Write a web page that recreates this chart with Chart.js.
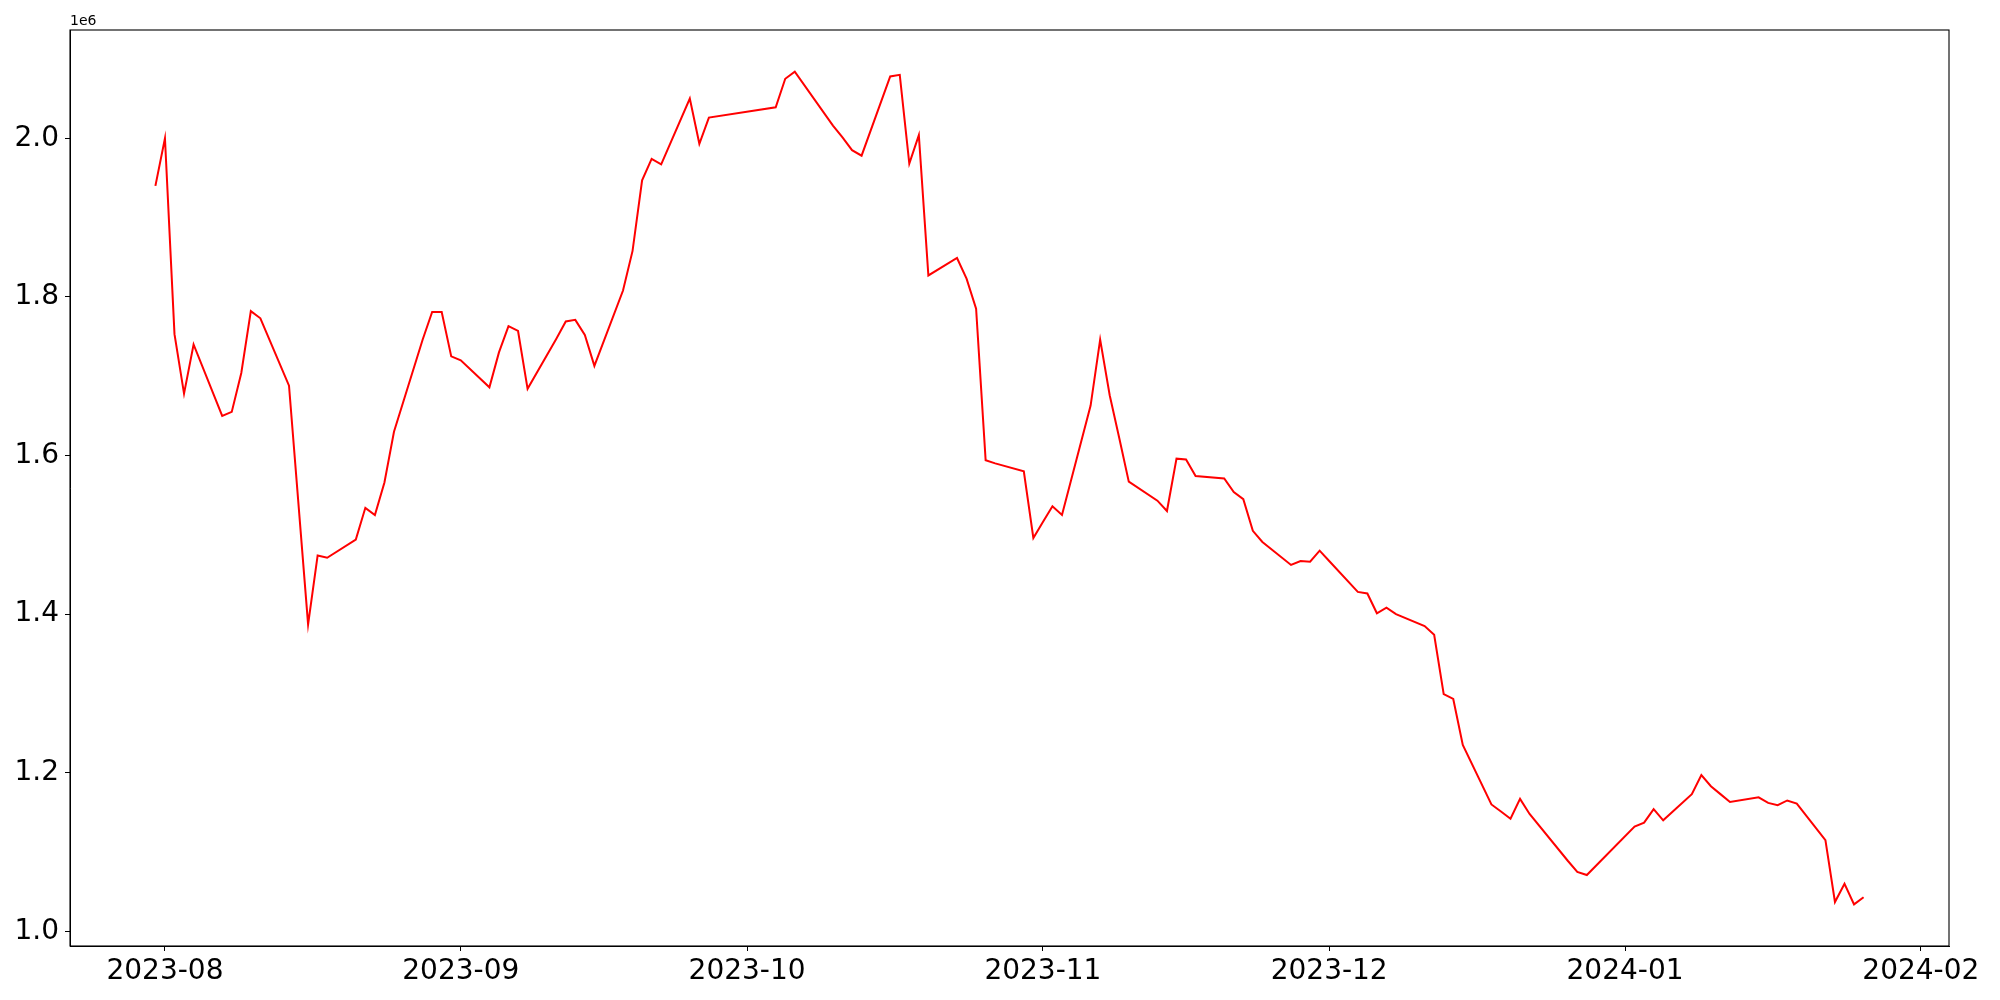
<!DOCTYPE html>
<html>
<head>
<meta charset="utf-8">
<script src="https://cdn.jsdelivr.net/npm/chart.js@4/dist/chart.umd.min.js"></script>
<style>
  html, body { margin: 0; padding: 0; background: #fff; }
  canvas { display: block; }
</style>
</head>
<body>
<canvas id="priceChart" width="2000" height="1000"></canvas>
<script>
// trading days (KRX calendar) and values
const dates = [
  '2023-07-31', '2023-08-01', '2023-08-02', '2023-08-03', '2023-08-04',
  '2023-08-07', '2023-08-08', '2023-08-09', '2023-08-10', '2023-08-11',
  '2023-08-14', '2023-08-16', '2023-08-17', '2023-08-18',
  '2023-08-21', '2023-08-22', '2023-08-23', '2023-08-24', '2023-08-25',
  '2023-08-28', '2023-08-29', '2023-08-30', '2023-08-31', '2023-09-01',
  '2023-09-04', '2023-09-05', '2023-09-06', '2023-09-07', '2023-09-08',
  '2023-09-11', '2023-09-12', '2023-09-13', '2023-09-14', '2023-09-15',
  '2023-09-18', '2023-09-19', '2023-09-20', '2023-09-21', '2023-09-22',
  '2023-09-25', '2023-09-26', '2023-09-27',
  '2023-10-04', '2023-10-05', '2023-10-06',
  '2023-10-10', '2023-10-11', '2023-10-12', '2023-10-13',
  '2023-10-16', '2023-10-17', '2023-10-18', '2023-10-19', '2023-10-20',
  '2023-10-23', '2023-10-24', '2023-10-25', '2023-10-26', '2023-10-27',
  '2023-10-30', '2023-10-31', '2023-11-01', '2023-11-02', '2023-11-03',
  '2023-11-06', '2023-11-07', '2023-11-08', '2023-11-09', '2023-11-10',
  '2023-11-13', '2023-11-14', '2023-11-15', '2023-11-16', '2023-11-17',
  '2023-11-20', '2023-11-21', '2023-11-22', '2023-11-23', '2023-11-24',
  '2023-11-27', '2023-11-28', '2023-11-29', '2023-11-30', '2023-12-01',
  '2023-12-04', '2023-12-05', '2023-12-06', '2023-12-07', '2023-12-08',
  '2023-12-11', '2023-12-12', '2023-12-13', '2023-12-14', '2023-12-15',
  '2023-12-18', '2023-12-19', '2023-12-20', '2023-12-21', '2023-12-22',
  '2023-12-26', '2023-12-27', '2023-12-28',
  '2024-01-02', '2024-01-03', '2024-01-04', '2024-01-05',
  '2024-01-08', '2024-01-09', '2024-01-10', '2024-01-11', '2024-01-12',
  '2024-01-15', '2024-01-16', '2024-01-17', '2024-01-18', '2024-01-19',
  '2024-01-22', '2024-01-23', '2024-01-24', '2024-01-25', '2024-01-26'
];

const values = [
  1940000, 2000000, 1753000, 1678000, 1740000,
  1650000, 1655000, 1704000, 1782000, 1773000,
  1688000, 1387000, 1474000, 1471000,
  1494000, 1534000, 1525000, 1566000, 1630000,
  1746000, 1781000, 1781000, 1725000, 1720000,
  1686000, 1730000, 1763000, 1757000, 1684000,
  1747000, 1769000, 1771000, 1752000, 1713000,
  1808000, 1858000, 1947000, 1974000, 1967000,
  2050000, 1993000, 2026000,
  2039000, 2075000, 2084000,
  2016000, 2001000, 1985000, 1978000,
  2078000, 2080000, 1968000, 2004000, 1827000,
  1849000, 1823000, 1785000, 1594000, 1590000,
  1580000, 1496000, 1516000, 1536000, 1525000,
  1663000, 1746000, 1676000, 1622000, 1567000,
  1543000, 1530000, 1596000, 1595000, 1574000,
  1571000, 1554000, 1545000, 1505000, 1491000,
  1462000, 1467000, 1466000, 1480000, 1467000,
  1428000, 1426000, 1401000, 1408000, 1400000,
  1385000, 1374000, 1299000, 1293000, 1235000,
  1160000, 1151000, 1142000, 1167000, 1148000,
  1089000, 1075000, 1071000,
  1132000, 1137000, 1154000, 1140000,
  1173000, 1197000, 1183000, 1173000, 1163000,
  1169000, 1162000, 1159000, 1165000, 1161000,
  1115000, 1037000, 1060000, 1034000, 1043000
];

const xTickLabels = ['2023-08', '2023-09', '2023-10', '2023-11', '2023-12', '2024-01', '2024-02'];
const yTickValues = [1000000, 1200000, 1400000, 1600000, 1800000, 2000000];
const offsetLabel = '1e6';

const points = dates.map((d, i) => ({ x: Date.parse(d), y: values[i] }));

// matplotlib-like 5% margins
const xFirst = points[0].x, xLast = points[points.length - 1].x;
const xPad = (xLast - xFirst) * 0.05;
const yLo = Math.min(...values), yHi = Math.max(...values);
const yPad = (yHi - yLo) * 0.05;

const FONT = 'DejaVu Sans';

const framePlugin = {
  id: 'frame',
  afterDraw(chart) {
    const { ctx, chartArea: a } = chart;
    ctx.save();
    ctx.strokeStyle = '#000';
    ctx.lineWidth = 1.1;
    ctx.strokeRect(a.left, a.top, a.right - a.left, a.bottom - a.top);
    ctx.fillStyle = '#000';
    ctx.font = '14px "' + FONT + '"';
    ctx.textAlign = 'left';
    ctx.textBaseline = 'bottom';
    ctx.fillText(offsetLabel, a.left, a.top - 2);
    ctx.restore();
  }
};

const ctx = document.getElementById('priceChart').getContext('2d');
new Chart(ctx, {
  type: 'line',
  data: {
    datasets: [{
      data: points,
      borderColor: '#ff0000',
      borderWidth: 2,
      pointRadius: 0,
      tension: 0,
      fill: false
    }]
  },
  options: {
    responsive: false,
    animation: false,
    devicePixelRatio: 1,
    layout: { padding: { left: 0, right: 51, top: 30, bottom: 0 } },
    plugins: { legend: { display: false }, tooltip: { enabled: false } },
    scales: {
      x: {
        type: 'linear',
        min: xFirst - xPad,
        max: xLast + xPad,
        afterBuildTicks: (s) => { s.ticks = xTickLabels.map(l => ({ value: Date.parse(l + '-01') })); },
        afterFit: (s) => { s.height = 54; },
        ticks: {
          callback: (v, i) => xTickLabels[i],
          font: { family: FONT, size: 28 },
          color: '#000',
          padding: 4,
          maxRotation: 0,
          autoSkip: false
        },
        grid: { drawOnChartArea: false, drawTicks: true, tickLength: 5, color: '#000', lineWidth: 1 },
        border: { display: true, color: '#000', width: 1 }
      },
      y: {
        type: 'linear',
        min: yLo - yPad,
        max: yHi + yPad,
        afterBuildTicks: (s) => { s.ticks = yTickValues.map(v => ({ value: v })); },
        afterFit: (s) => { s.width = 70; },
        ticks: {
          callback: (v) => (v / 1e6).toFixed(1),
          font: { family: FONT, size: 28 },
          color: '#000',
          padding: 6
        },
        grid: { drawOnChartArea: false, drawTicks: true, tickLength: 5, color: '#000', lineWidth: 1 },
        border: { display: true, color: '#000', width: 1 }
      }
    }
  },
  plugins: [framePlugin]
});
</script>
</body>
</html>
